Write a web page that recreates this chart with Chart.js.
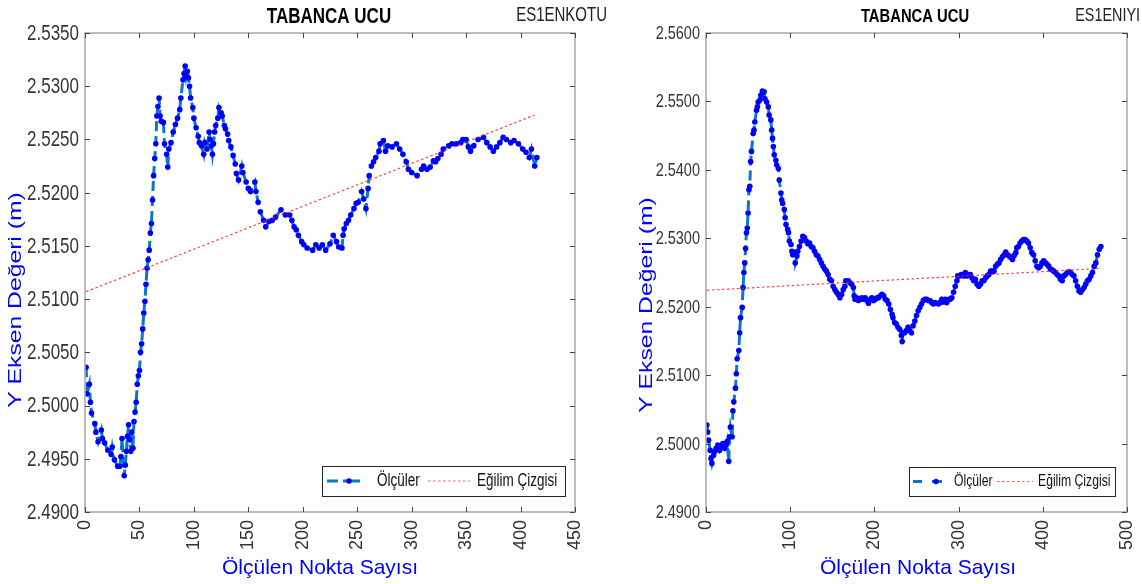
<!DOCTYPE html>
<html>
<head>
<meta charset="utf-8">
<script src="https://cdn.jsdelivr.net/npm/chart.js@4.4.0/dist/chart.umd.min.js"></script>
<style>
  html, body { margin: 0; padding: 0; background: #fff; }
  #wrap { position: relative; width: 1142px; height: 584px; overflow: hidden; }
  canvas { position: absolute; top: 0; }
</style>
</head>
<body>
<div id="wrap">
  <canvas id="leftChart" width="630" height="584" style="left:0"></canvas>
  <canvas id="rightChart" width="512" height="584" style="left:630px"></canvas>
</div>
<script>
// --- sol grafik: ES1ENKOTU ---
const leftX = [
  1, 2, 4, 5, 6, 9, 10, 12, 15, 16,
  18, 21, 24, 25, 27, 30, 32, 33, 34, 36,
  37, 38, 39, 40, 41, 42, 43, 44, 45, 46,
  47, 48, 49, 50, 51, 52, 53, 54, 55, 56,
  57, 58, 59, 60, 61, 62, 63, 64, 65, 66,
  67, 68, 69, 70, 72, 73, 75, 76, 77, 79,
  81, 83, 85, 87, 88, 90, 91, 92, 93, 94,
  95, 96, 97, 99, 100, 102, 104, 105, 107, 109,
  110, 112, 114, 115, 116, 117, 118, 119, 120, 122,
  123, 125, 126, 128, 129, 131, 132, 134, 136, 138,
  139, 141, 144, 145, 148, 150, 152, 156, 157, 159,
  161, 164, 166, 169, 172, 175, 180, 184, 188, 190,
  192, 194, 196, 199, 201, 204, 209, 212, 215, 218,
  221, 225, 228, 231, 233, 236, 237, 238, 240, 242,
  244, 247, 249, 251, 254, 256, 258, 260, 261, 263,
  265, 267, 270, 271, 274, 276, 278, 282, 286, 289,
  292, 295, 297, 300, 305, 309, 311, 314, 317, 320,
  322, 324, 327, 329, 334, 337, 341, 345, 347, 350,
  352, 354, 357, 361, 366, 369, 372, 375, 378, 381,
  384, 387, 391, 394, 398, 402, 405, 408, 410, 413,
  415
];
const leftY = [
  2.5036, 2.5011, 2.5020, 2.5003, 2.4993, 2.4983, 2.4975, 2.4966, 2.4977, 2.4969,
  2.4965, 2.4958, 2.4954, 2.4961, 2.4949, 2.4943, 2.4943, 2.4952, 2.4969, 2.4934,
  2.4944, 2.4957, 2.4971, 2.4982, 2.4968, 2.4957, 2.4975, 2.4960, 2.4985, 2.4994,
  2.5003, 2.5020, 2.5028, 2.5033, 2.5050, 2.5058, 2.5072, 2.5087, 2.5098, 2.5114,
  2.5129, 2.5137, 2.5146, 2.5162, 2.5171, 2.5193, 2.5216, 2.5232, 2.5246, 2.5272,
  2.5281, 2.5289, 2.5272, 2.5267, 2.5266, 2.5246, 2.5236, 2.5224, 2.5241, 2.5247,
  2.5257, 2.5264, 2.5270, 2.5278, 2.5289, 2.5306, 2.5312, 2.5319, 2.5309, 2.5314,
  2.5308, 2.5300, 2.5289, 2.5280, 2.5270, 2.5261, 2.5253, 2.5247, 2.5244, 2.5236,
  2.5247, 2.5241, 2.5257, 2.5250, 2.5244, 2.5236, 2.5246, 2.5257, 2.5263, 2.5270,
  2.5280, 2.5275, 2.5272, 2.5263, 2.5260, 2.5255, 2.5249, 2.5243, 2.5235, 2.5227,
  2.5218, 2.5212, 2.5225, 2.5219, 2.5210, 2.5204, 2.5201, 2.5210, 2.5201, 2.5191,
  2.5182, 2.5174, 2.5168, 2.5173, 2.5174, 2.5177, 2.5184, 2.5179, 2.5179, 2.5174,
  2.5168, 2.5165, 2.5160, 2.5154, 2.5151, 2.5148, 2.5146, 2.5151, 2.5148, 2.5151,
  2.5146, 2.5152, 2.5160, 2.5154, 2.5149, 2.5148, 2.5160, 2.5166, 2.5171, 2.5174,
  2.5179, 2.5185, 2.5190, 2.5191, 2.5201, 2.5194, 2.5185, 2.5204, 2.5216, 2.5225,
  2.5229, 2.5233, 2.5239, 2.5246, 2.5249, 2.5239, 2.5244, 2.5243, 2.5246, 2.5241,
  2.5236, 2.5229, 2.5222, 2.5219, 2.5216, 2.5222, 2.5225, 2.5222, 2.5224, 2.5230,
  2.5229, 2.5232, 2.5236, 2.5241, 2.5244, 2.5246, 2.5246, 2.5247, 2.5250, 2.5250,
  2.5243, 2.5239, 2.5244, 2.5250, 2.5252, 2.5247, 2.5243, 2.5239, 2.5243, 2.5247,
  2.5252, 2.5250, 2.5247, 2.5249, 2.5246, 2.5241, 2.5238, 2.5233, 2.5241, 2.5225,
  2.5233
];
const leftTrendX = [1, 413];
const leftTrendY = [2.5107, 2.5273];
const leftXTicks = [0, 50, 100, 150, 200, 250, 300, 350, 400, 450];
const leftYTicks = ['2.4900', '2.4950', '2.5000', '2.5050', '2.5100', '2.5150', '2.5200', '2.5250', '2.5300', '2.5350'];

// --- sag grafik: ES1ENIYI ---
const rightX = [
  1, 2, 3, 5, 6, 7, 9, 10, 12, 14,
  16, 18, 20, 22, 24, 25, 27, 28, 29, 31,
  32, 33, 35, 36, 37, 39, 40, 41, 43, 44,
  45, 46, 47, 48, 49, 50, 51, 52, 53, 54,
  56, 57, 58, 60, 61, 62, 64, 65, 67, 69,
  70, 72, 74, 75, 77, 78, 79, 80, 81, 83,
  84, 86, 87, 89, 90, 91, 93, 94, 95, 97,
  98, 99, 101, 102, 103, 105, 106, 108, 109, 111,
  113, 115, 117, 119, 121, 123, 125, 127, 129, 131,
  133, 135, 137, 139, 141, 143, 145, 147, 149, 151,
  153, 155, 157, 159, 161, 163, 165, 166, 169, 171,
  173, 175, 176, 177, 179, 181, 183, 185, 187, 189,
  191, 193, 195, 197, 199, 201, 203, 205, 207, 209,
  211, 213, 215, 217, 219, 221, 222, 224, 226, 228,
  230, 232, 233, 234, 236, 238, 240, 242, 244, 246,
  248, 250, 252, 254, 256, 258, 260, 262, 264, 266,
  268, 270, 272, 274, 276, 278, 280, 282, 284, 286,
  288, 290, 292, 294, 296, 298, 299, 301, 303, 306,
  308, 310, 312, 314, 316, 318, 320, 322, 324, 326,
  328, 330, 332, 334, 336, 338, 340, 342, 344, 346,
  348, 350, 352, 354, 356, 358, 360, 362, 364, 366,
  368, 369, 371, 373, 375, 377, 379, 381, 383, 385,
  387, 389, 391, 393, 395, 397, 399, 401, 403, 405,
  407, 409, 411, 413, 415, 417, 419, 421, 423, 425,
  427, 429, 431, 433, 435, 437, 439, 441, 443, 445,
  447, 449, 451, 453, 455, 457, 459, 461, 463, 465,
  467, 469
];
const rightY = [
  2.5027, 2.5017, 2.5005, 2.4990, 2.4978, 2.4971, 2.4983, 2.4988, 2.4993, 2.4998,
  2.4990, 2.4995, 2.5000, 2.4993, 2.4998, 2.5003, 2.4974, 2.5010, 2.5024, 2.5010,
  2.5048, 2.5061, 2.5081, 2.5102, 2.5124, 2.5136, 2.5162, 2.5184, 2.5199, 2.5228,
  2.5250, 2.5264, 2.5285, 2.5308, 2.5315, 2.5337, 2.5371, 2.5376, 2.5412, 2.5427,
  2.5453, 2.5458, 2.5470, 2.5487, 2.5492, 2.5499, 2.5502, 2.5509, 2.5515, 2.5514,
  2.5504, 2.5499, 2.5492, 2.5480, 2.5473, 2.5458, 2.5446, 2.5434, 2.5422, 2.5414,
  2.5407, 2.5402, 2.5385, 2.5366, 2.5356, 2.5351, 2.5342, 2.5330, 2.5320, 2.5313,
  2.5308, 2.5296, 2.5291, 2.5281, 2.5276, 2.5279, 2.5264, 2.5274, 2.5281, 2.5288,
  2.5296, 2.5303, 2.5301, 2.5296, 2.5292, 2.5293, 2.5288, 2.5286, 2.5281, 2.5276,
  2.5274, 2.5269, 2.5264, 2.5259, 2.5255, 2.5252, 2.5247, 2.5240, 2.5238, 2.5230,
  2.5225, 2.5221, 2.5218, 2.5213, 2.5218, 2.5225, 2.5230, 2.5238, 2.5238, 2.5235,
  2.5233, 2.5228, 2.5216, 2.5211, 2.5213, 2.5209, 2.5211, 2.5213, 2.5211, 2.5213,
  2.5209, 2.5205, 2.5211, 2.5213, 2.5209, 2.5211, 2.5213, 2.5213, 2.5216, 2.5218,
  2.5216, 2.5211, 2.5209, 2.5204, 2.5196, 2.5189, 2.5184, 2.5177, 2.5175, 2.5170,
  2.5167, 2.5158, 2.5149, 2.5162, 2.5162, 2.5165, 2.5170, 2.5165, 2.5162, 2.5172,
  2.5179, 2.5187, 2.5194, 2.5199, 2.5204, 2.5209, 2.5211, 2.5211, 2.5209, 2.5209,
  2.5206, 2.5204, 2.5206, 2.5205, 2.5204, 2.5206, 2.5211, 2.5207, 2.5211, 2.5206,
  2.5211, 2.5211, 2.5213, 2.5221, 2.5230, 2.5238, 2.5245, 2.5245, 2.5247, 2.5245,
  2.5250, 2.5245, 2.5247, 2.5247, 2.5242, 2.5238, 2.5240, 2.5233, 2.5230, 2.5233,
  2.5238, 2.5238, 2.5242, 2.5245, 2.5247, 2.5252, 2.5252, 2.5252, 2.5259, 2.5262,
  2.5264, 2.5269, 2.5273, 2.5276, 2.5280, 2.5276, 2.5274, 2.5272, 2.5269, 2.5275,
  2.5279, 2.5286, 2.5288, 2.5293, 2.5296, 2.5298, 2.5298, 2.5296, 2.5293, 2.5286,
  2.5279, 2.5276, 2.5267, 2.5259, 2.5257, 2.5259, 2.5264, 2.5267, 2.5264, 2.5262,
  2.5259, 2.5255, 2.5254, 2.5252, 2.5250, 2.5247, 2.5245, 2.5240, 2.5238, 2.5245,
  2.5247, 2.5250, 2.5251, 2.5250, 2.5247, 2.5245, 2.5238, 2.5230, 2.5223, 2.5221,
  2.5225, 2.5228, 2.5233, 2.5238, 2.5240, 2.5245, 2.5250, 2.5259, 2.5264, 2.5276,
  2.5284, 2.5288
];
const rightTrendX = [1, 469];
const rightTrendY = [2.5224, 2.5256];
const rightXTicks = [0, 100, 200, 300, 400, 500];
const rightYTicks = ['2.4900', '2.5000', '2.5100', '2.5200', '2.5300', '2.5400', '2.5500', '2.5600'];

const seriesNames = ['Ölçüler', 'Eğilim Çizgisi'];
const chartTitle = 'TABANCA UCU';
const xTitle = 'Ölçülen Nokta Sayısı';
const yTitle = 'Y Eksen Değeri (m)';

const LINE_COLOR = '#0a78c2';
const DOT_COLOR = '#0000ff';
const TREND_COLOR = 'rgba(255,30,30,0.85)';
const LABEL_BLUE = '#0000ff';
const FONT = "'Liberation Sans', Arial, sans-serif";

//dibuja texto con escala (las letras del original son estiradas)
function txt(ctx, s, x, y, o) {
  ctx.save();
  ctx.translate(x, y);
  if (o.rot) ctx.rotate(o.rot);
  ctx.scale(o.sx || 1, o.sy || 1);
  ctx.font = o.font;
  ctx.fillStyle = o.color || '#000';
  ctx.textAlign = o.align || 'left';
  ctx.textBaseline = 'middle';
  ctx.fillText(s, 0, 0);
  ctx.restore();
}

//marco estilo matlab: caja, ticks hacia adentro, etiquetas, titulos y leyenda
const matlabFrame = {
  id: 'matlabFrame',
  afterDraw(chart, args, o) {
    const { ctx, chartArea: a, scales: { x, y } } = chart;
    ctx.save();
    ctx.strokeStyle = '#a6a6a6';
    ctx.lineWidth = 1.5;
    ctx.strokeRect(a.left, a.top, a.width, a.height);

    ctx.strokeStyle = '#454545';
    ctx.lineWidth = 1;
    ctx.beginPath();
    o.xTicks.forEach(v => {
      const px = Math.round(x.getPixelForValue(v)) + 0.5;
      ctx.moveTo(px, a.bottom); ctx.lineTo(px, a.bottom - 5);
      ctx.moveTo(px, a.top); ctx.lineTo(px, a.top + 5);
    });
    o.yTicks.forEach(t => {
      const py = Math.round(y.getPixelForValue(parseFloat(t))) + 0.5;
      ctx.moveTo(a.left, py); ctx.lineTo(a.left + 5, py);
      ctx.moveTo(a.right, py); ctx.lineTo(a.right - 5, py);
    });
    ctx.stroke();

    const f = o.fonts;
    o.yTicks.forEach(t => {
      txt(ctx, t, a.left - 6, y.getPixelForValue(parseFloat(t)) + 1,
        { font: f.yTick + 'px ' + FONT, sy: 1.25, align: 'right', color: '#333' });
    });
    o.xTicks.forEach(v => {
      txt(ctx, String(v), x.getPixelForValue(v), a.bottom + 8,
        { font: '18px ' + FONT, rot: -Math.PI / 2, align: 'right', color: '#333' });
    });

    txt(ctx, chartTitle, o.titleX, 17, { font: 'bold ' + f.title + 'px ' + FONT, sy: 1.3, align: 'center' });
    txt(ctx, o.tag, o.tagX, 16, { font: f.tag + 'px ' + FONT, sy: 1.3, align: 'right', color: '#222' });
    txt(ctx, xTitle, o.xTitleX, 568, { font: '21px ' + FONT, align: 'center', color: LABEL_BLUE });
    txt(ctx, yTitle, o.yTitleX, o.yTitleY, { font: '19px ' + FONT, rot: -Math.PI / 2, sx: 1.3, align: 'center', color: LABEL_BLUE });

    // leyenda
    const L = o.legend;
    const cy = L.y + L.h / 2;
    ctx.fillStyle = '#fff';
    ctx.fillRect(L.x, L.y, L.w, L.h);
    ctx.strokeStyle = '#262626';
    ctx.lineWidth = 1;
    ctx.strokeRect(L.x + 0.5, L.y + 0.5, L.w, L.h);
    ctx.strokeStyle = LINE_COLOR;
    ctx.lineWidth = 3;
    ctx.beginPath();
    ctx.moveTo(L.x + L.d1[0], cy); ctx.lineTo(L.x + L.d1[1], cy);
    ctx.moveTo(L.x + L.d2[0], cy); ctx.lineTo(L.x + L.d2[1], cy);
    ctx.stroke();
    ctx.fillStyle = DOT_COLOR;
    ctx.beginPath();
    ctx.arc(L.x + L.dot, cy, 2.7, 0, Math.PI * 2);
    ctx.fill();
    ctx.strokeStyle = 'rgba(255,30,30,0.7)';
    ctx.lineWidth = 1.2;
    ctx.setLineDash([2.5, 2.5]);
    ctx.beginPath();
    ctx.moveTo(L.x + L.red[0], cy); ctx.lineTo(L.x + L.red[1], cy);
    ctx.stroke();
    ctx.setLineDash([]);
    const names = chart.data.datasets.map(d => d.label);
    txt(ctx, names[0], L.x + L.t1, cy, { font: f.legend + 'px ' + FONT, sy: 1.3, color: '#111' });
    txt(ctx, names[1], L.x + L.t2, cy, { font: f.legend + 'px ' + FONT, sy: 1.3, color: '#111' });
    ctx.restore();
  }
};

function makeChart(id, c) {
  const yVals = c.yTicks.map(parseFloat);
  return new Chart(document.getElementById(id), {
    type: 'scatter',
    data: {
      datasets: [{
        label: seriesNames[0],
        data: c.xs.map((v, i) => ({ x: v, y: c.ys[i] })),
        showLine: true,
        borderColor: LINE_COLOR,
        borderWidth: 3,
        borderDash: [10, 5],
        pointRadius: 2.8,
        pointBackgroundColor: DOT_COLOR,
        pointBorderWidth: 0,
        order: 1
      }, {
        label: seriesNames[1],
        data: c.tx.map((v, i) => ({ x: v, y: c.ty[i] })),
        showLine: true,
        borderColor: TREND_COLOR,
        borderWidth: 1.2,
        borderDash: [2.5, 2.5],
        pointRadius: 0,
        order: 0
      }]
    },
    options: {
      responsive: false,
      animation: false,
      devicePixelRatio: 1,
      layout: { padding: { top: 33, right: c.padRight, left: 0, bottom: 0 } },
      plugins: {
        legend: { display: false },
        tooltip: { enabled: false },
        matlabFrame: c.frame
      },
      scales: {
        x: {
          type: 'linear',
          min: c.xTicks[0],
          max: c.xTicks[c.xTicks.length - 1],
          ticks: { display: false },
          grid: { display: false },
          border: { display: false },
          afterBuildTicks: s => { s.ticks = c.xTicks.map(v => ({ value: v })); },
          afterFit: s => { s.height = 72; }
        },
        y: {
          type: 'linear',
          min: yVals[0],
          max: yVals[yVals.length - 1],
          ticks: { display: false },
          grid: { display: false },
          border: { display: false },
          afterBuildTicks: s => { s.ticks = yVals.map(v => ({ value: v })); },
          afterFit: s => { s.width = c.axisLeft; }
        }
      }
    },
    plugins: [matlabFrame]
  });
}

makeChart('leftChart', {
  xs: leftX, ys: leftY, tx: leftTrendX, ty: leftTrendY,
  xTicks: leftXTicks, yTicks: leftYTicks,
  axisLeft: 85, padRight: 55,
  frame: {
    xTicks: leftXTicks, yTicks: leftYTicks,
    tag: 'ES1ENKOTU', tagX: 607, titleX: 329, xTitleX: 320, yTitleX: 16, yTitleY: 300,
    fonts: { yTick: 17, title: 17, tag: 15, legend: 13.5 },
    legend: { x: 322, y: 466, w: 243, h: 30, d1: [5, 16], d2: [21, 38], dot: 27, t1: 55, red: [106, 148], t2: 155 }
  }
});

makeChart('rightChart', {
  xs: rightX, ys: rightY, tx: rightTrendX, ty: rightTrendY,
  xTicks: rightXTicks, yTicks: rightYTicks,
  axisLeft: 76, padRight: 15,
  frame: {
    xTicks: rightXTicks, yTicks: rightYTicks,
    tag: 'ES1ENIYI', tagX: 510, titleX: 285, xTitleX: 288, yTitleX: 17, yTitleY: 305,
    fonts: { yTick: 14.5, title: 14.8, tag: 14.4, legend: 12.2 },
    legend: { x: 279, y: 467, w: 206, h: 29, d1: [4, 13], d2: [23, 33], dot: 27, t1: 45, red: [88, 124], t2: 129 }
  }
});
</script>
</body>
</html>
